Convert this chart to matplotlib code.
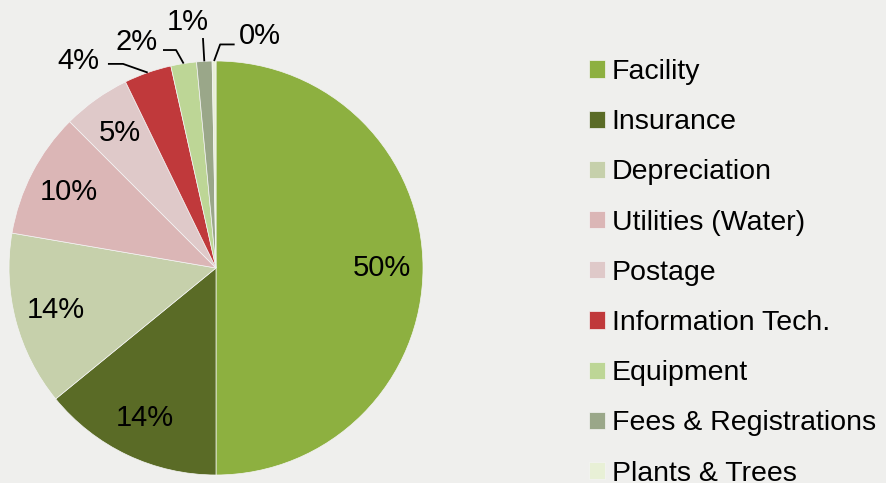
import numpy as np
import matplotlib.pyplot as plt

plt.rcParams['font.family'] = ['Liberation Sans', 'DejaVu Sans']

# cost breakdown (percent of total)
categories = ['Facility', 'Insurance', 'Depreciation', 'Utilities (Water)', 'Postage',
              'Information Tech.', 'Equipment', 'Fees & Registrations', 'Plants & Trees']
shares = [50.0, 14.1, 13.6, 9.8, 5.3, 3.7, 2.0, 1.2, 0.3]
colors = ['#8db040', '#5a6b26', '#c6d0ab', '#dbb6b6', '#dfc9c9',
          '#c0393b', '#bdd696', '#9aa789', '#e8f0d6']

# label placement for the thin slices (text pos, elbow of leader line)
outside_text = {5: (-0.665, 1.0), 6: (-0.385, 1.09), 7: (-0.135, 1.19), 8: (0.21, 1.12)}
outside_elbow = {5: (-0.449, 0.986), 6: (-0.193, 1.053), 7: (-0.063, 1.111), 8: (0.02, 1.08)}
outside_end = {5: (-0.522, 0.986), 6: (-0.256, 1.053), 7: (-0.063, 1.111), 8: (0.09, 1.08)}

fig = plt.figure(figsize=(8.86, 4.83), dpi=100)
fig.patch.set_facecolor('#efefed')
ax = fig.add_axes([9/886, 8/483, 414/886, 414/483])
ax.set_facecolor('none')

wedges, _ = ax.pie(shares, colors=colors, startangle=90, counterclock=False,
                   wedgeprops=dict(edgecolor='#f4f4f4', linewidth=0.5))
ax.set_xlim(-1, 1)
ax.set_ylim(-1, 1)
ax.axis('off')

for i, w in enumerate(wedges):
    mid = np.deg2rad((w.theta1 + w.theta2) / 2)
    lab = '%d%%' % round(shares[i])
    if i < 5:
        ax.text(0.8 * np.cos(mid), 0.8 * np.sin(mid), lab, ha='center', va='center',
                fontsize=21, color='black')
    else:
        ex, ey = np.cos(mid), np.sin(mid)
        bx, by = outside_elbow[i]
        cx, cy = outside_end[i]
        ax.plot([ex, bx, cx], [ey, by, cy], color='black', lw=1.3,
                clip_on=False, solid_capstyle='butt')
        tx, ty = outside_text[i]
        ax.text(tx, ty, lab, ha='center', va='center', fontsize=21,
                color='black', clip_on=False)

fig.legend(wedges, categories, loc='upper left', bbox_to_anchor=(589/886, 1 - 59/483),
           frameon=False, fontsize=20.5, handlelength=0.55, handleheight=0.55,
           handletextpad=0.25, labelspacing=0.85, borderpad=0, borderaxespad=0)

plt.savefig('out.png', dpi=100, facecolor=fig.get_facecolor())
